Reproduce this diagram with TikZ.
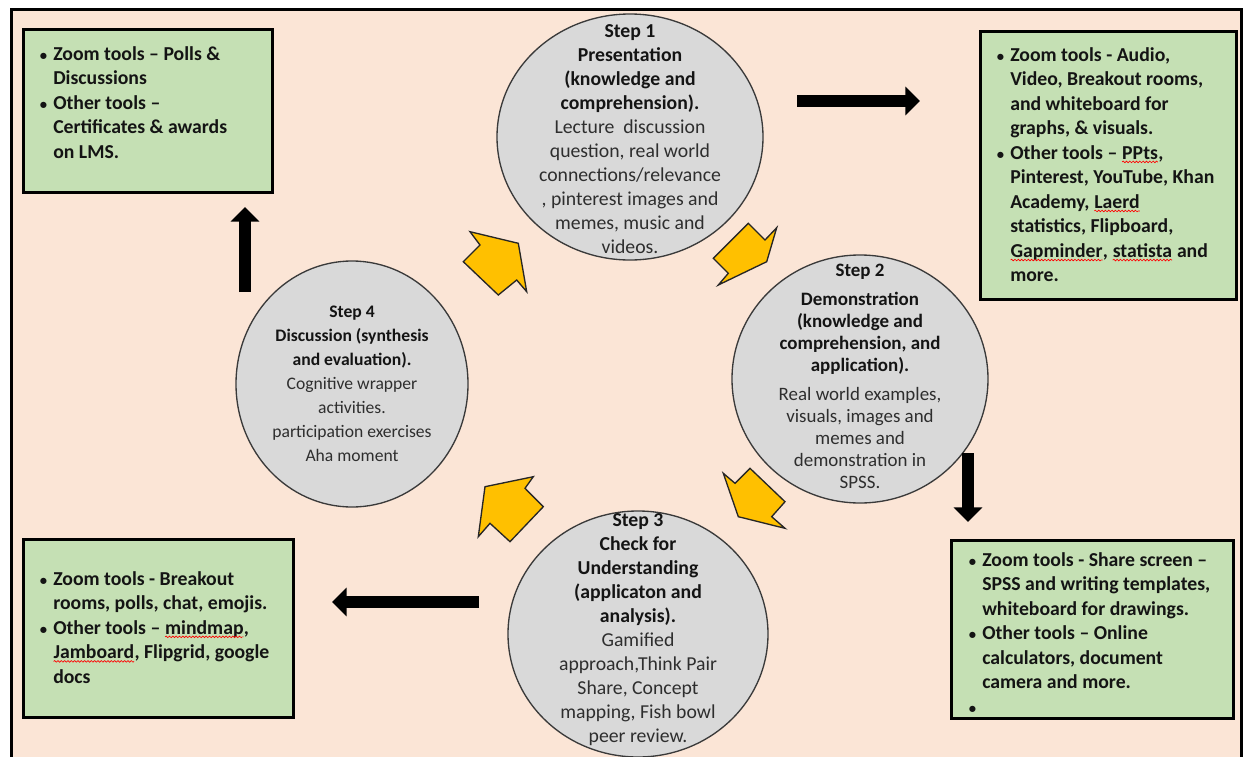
\documentclass[tikz,border=0pt]{standalone}
\usepackage{fontspec}
\setmainfont{Carlito}
\usepackage{tikz}
\usetikzlibrary{arrows.meta}
\usetikzlibrary{positioning, shapes.geometric, decorations.pathmorphing}

\definecolor{peach}{HTML}{FBE5D6}
\definecolor{toolgreen}{HTML}{C5E0B4}
\definecolor{circfill}{HTML}{D9D9D9}
\definecolor{circline}{HTML}{3A3A3A}
\definecolor{cycyellow}{HTML}{FFC000}
\definecolor{txtgray}{HTML}{2E2E2E}
\definecolor{txtdark}{HTML}{141414}

% red wavy line of the spell checker
\newcommand{\spellerr}[1]{\tikz[baseline=(w.base)]{\node[inner sep=0pt, outer sep=0pt, anchor=base] (w) {#1}; \draw[red, line width=0.5pt, decorate, decoration={snake, amplitude=0.6pt, segment length=2.5pt}] ([yshift=-2pt]w.base west) -- ([yshift=-2pt]w.base east);}}
\newcommand{\bul}{\llap{{\fontsize{11}{11}\selectfont\textbullet}\hspace{4.5pt}}}

\tikzset{
  stepcirc/.style={ellipse, draw=circline, line width=1pt, fill=circfill, inner sep=0pt},
  steptext/.style={align=center, inner sep=0pt, text=txtgray, font=\fontsize{14.8}{18}\selectfont},
  toolbox/.style={rectangle, draw=black, line width=2.2pt, fill=toolgreen, anchor=north west, inner sep=0pt},
  tooltext/.style={align=left, anchor=north west, inner sep=0pt, text=txtdark, font=\bfseries\fontsize{14.8}{18.4}\selectfont},
  cycarrow/.style={fill=cycyellow, draw=black!85, line width=1pt, line join=miter},
  toolarrow/.style={line width=9pt, draw=black, -{Triangle[width=21pt,length=11pt]}},
}

\begin{document}
\begin{tikzpicture}[x=0.75pt, y=-0.75pt]
\useasboundingbox (0,0) rectangle (1243,757);
\draw[line width=2pt, fill=peach] (11.5,9.5) rectangle (1241.5,800);

% the four steps
\node[stepcirc, minimum width=199.5pt, minimum height=184.5pt] (s1) at (630,137) {};
\node[stepcirc, minimum width=192pt, minimum height=186pt] (s2) at (860,379) {};
\node[stepcirc, minimum width=195pt, minimum height=184.5pt] (s3) at (638,634) {};
\node[stepcirc, minimum width=174pt, minimum height=184.5pt] (s4) at (352,384) {};

\node[steptext] (s1txt) at ([yshift=-1.5pt]s1) {\textbf{\color{txtdark}Step 1}\\ \textbf{\color{txtdark}Presentation}\\ \textbf{\color{txtdark}(knowledge and}\\ \textbf{\color{txtdark}comprehension).}\\ Lecture\ \ discussion\\ question, real world\\ connections/relevance\\ ,\ pinterest images and\\ memes, music and\\ videos.};
\node[steptext, font=\fontsize{14.2}{16.5}\selectfont] (s2txt) at ([yshift=2pt]s2) {\textbf{\color{txtdark}Step 2}\\[5pt] \textbf{\color{txtdark}Demonstration}\\ \textbf{\color{txtdark}(knowledge and}\\ \textbf{\color{txtdark}comprehension, and}\\ \textbf{\color{txtdark}application).}\\[5pt] Real world examples,\\ visuals, images and\\ memes and\\ demonstration in\\ SPSS.};
\node[steptext] (s3txt) at ([yshift=3pt]s3) {\textbf{\color{txtdark}Step 3}\\ \textbf{\color{txtdark}Check for}\\ \textbf{\color{txtdark}Understanding}\\ \textbf{\color{txtdark}(applicaton and}\\ \textbf{\color{txtdark}analysis).}\\ Gamified\\ approach,Think Pair\\ Share, Concept\\ mapping, Fish bowl\\ peer review.};
\node[steptext, font=\fontsize{13.2}{18}\selectfont] (s4txt) at (s4) {\textbf{\color{txtdark}Step 4}\\ \textbf{\color{txtdark}Discussion (synthesis}\\ \textbf{\color{txtdark}and evaluation).}\\ Cognitive wrapper\\ activities.\\ participation exercises\\ Aha moment};

% yellow cycle arrows
\draw[cycarrow] (470,231.7) -- (518.3,243.3) -- (526.7,291.7) -- (516.7,280) -- (498.3,295) -- (463.3,261.7) -- (480,245) -- cycle;
\draw[cycarrow] (748.3,223.3) -- (765,240) -- (776.7,227.7) -- (766.7,261.7) -- (718.3,285) -- (728.3,273.3) -- (713.3,258.3) -- cycle;
\draw[cycarrow] (723.3,473.3) -- (735,483.3) -- (750,468.3) -- (785,501.7) -- (771.7,516.7) -- (785,528.3) -- (738.3,516.7) -- cycle;
\draw[cycarrow] (485,486.7) -- (533.3,476.7) -- (525,488.3) -- (543.3,506.7) -- (510,541.7) -- (490,523.3) -- (478.3,536.7) -- cycle;

% tool boxes
\node[toolbox, minimum width=186.75pt, minimum height=122.25pt] (tl) at (22,28) {};
\node[toolbox, minimum width=192pt, minimum height=201pt] (tr) at (979,30) {};
\node[toolbox, minimum width=202.5pt, minimum height=133.5pt] (bl) at (22,538) {};
\node[toolbox, minimum width=211.5pt, minimum height=133.5pt] (br) at (950,539) {};

\node[tooltext] (tltxt) at (53,46) {\bul Zoom tools – Polls \&\\ Discussions\\ \bul Other tools –\\ Certificates \& awards\\ on LMS.};
\node[tooltext] (trtxt) at (1010,47) {\bul Zoom tools - Audio,\\ Video, Breakout rooms,\\ and whiteboard for\\ graphs, \& visuals.\\ \bul Other tools – \spellerr{PPts},\\ Pinterest, YouTube, Khan\\ Academy, \spellerr{Laerd}\\ statistics, Flipboard,\\ \spellerr{Gapminder}, \spellerr{statista} and\\ more.};
\node[tooltext] (bltxt) at (53,571) {\bul Zoom tools - Breakout\\ rooms, polls, chat, emojis.\\ \bul Other tools – \spellerr{mindmap},\\ \spellerr{Jamboard}, Flipgrid, google\\ docs};
\node[tooltext] (brtxt) at (982,552) {\bul Zoom tools - Share screen –\\ SPSS and writing templates,\\ whiteboard for drawings.\\ \bul Other tools – Online\\ calculators, document\\ camera and more.\\ \bul};

% arrows out to the tools
\coordinate (s1out) at (797,101);
\coordinate (tlin) at (245,292);
\coordinate (s2out) at (968,453);
\coordinate (s3out) at (479,602);
\draw[toolarrow] (s1out) -- (920,101) coordinate (trin);
\draw[toolarrow] (tlin) -- (245,207) coordinate (tlend);
\draw[toolarrow] (s2out) -- (968,522) coordinate (brin);
\draw[toolarrow] (s3out) -- (332,602) coordinate (blin);
\end{tikzpicture}
\end{document}
